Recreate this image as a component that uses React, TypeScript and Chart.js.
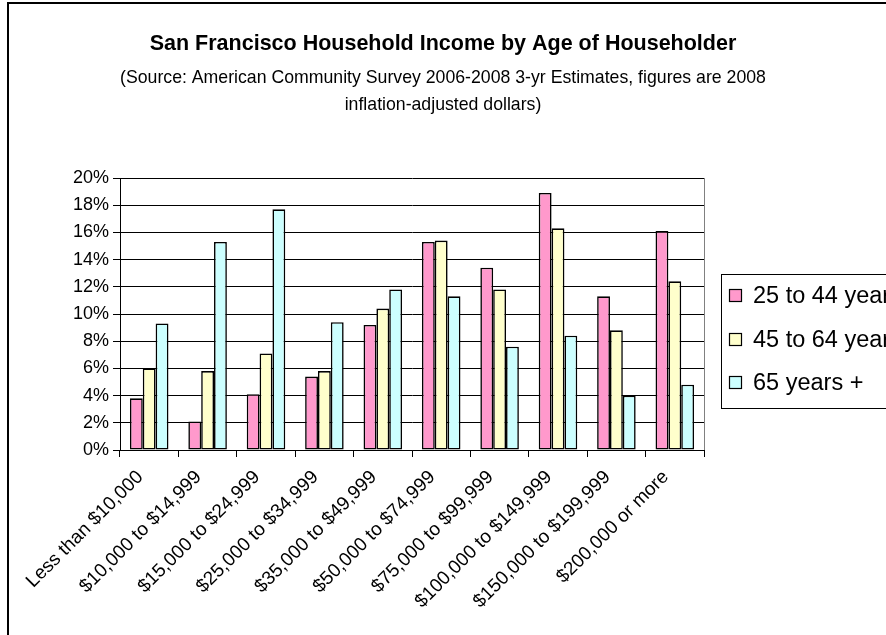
import React, { useEffect, useRef } from 'react';
import { Chart, registerables } from 'chart.js';

Chart.register(...registerables);

const categories = [
  'Less than $10,000',
  '$10,000 to $14,999',
  '$15,000 to $24,999',
  '$25,000 to $34,999',
  '$35,000 to $49,999',
  '$50,000 to $74,999',
  '$75,000 to $99,999',
  '$100,000 to $149,999',
  '$150,000 to $199,999',
  '$200,000 or more',
];
const seriesLabels = ['25 to 44 years', '45 to 64 years', '65 years +'];
const age25to44 = [3.8, 2.1, 4.1, 5.4, 9.2, 15.3, 13.4, 18.9, 11.3, 16.1];
const age45to64 = [6.0, 5.8, 7.1, 5.8, 10.4, 15.4, 11.8, 16.3, 8.8, 12.4];
const age65plus = [9.3, 15.3, 17.7, 9.4, 11.8, 11.3, 7.6, 8.4, 4.0, 4.8];
const seriesColors = ['#FF99CC', '#FFFFCC', '#CCFFFF'];
const yMin = 0;
const yMax = 20;
const yStep = 2;

const titleText = 'San Francisco Household Income by Age of Householder';
const subtitleLines = [
  '(Source: American Community Survey 2006-2008 3-yr Estimates, figures are 2008',
  'inflation-adjusted dollars)',
];

const FONT = '"Liberation Sans", Arial, Helvetica, sans-serif';

const chromePlugin = {
  id: 'chrome',
  beforeDraw(chart: any) {
    const { ctx, width, height } = chart;
    ctx.save();
    ctx.fillStyle = '#ffffff';
    ctx.fillRect(0, 0, width, height);
    ctx.restore();
  },
  afterDraw(chart: any) {
    const { ctx, chartArea } = chart;
    ctx.save();
    // outer chart border (cropped on right/bottom)
    ctx.strokeStyle = '#000000';
    ctx.lineWidth = 2;
    ctx.beginPath();
    ctx.moveTo(8, chart.height + 10);
    ctx.lineTo(8, 3);
    ctx.lineTo(chart.width + 10, 3);
    ctx.stroke();
    // plot area right border (gray)
    ctx.strokeStyle = '#808080';
    ctx.lineWidth = 1;
    ctx.beginPath();
    ctx.moveTo(Math.round(chartArea.right) + 0.5, chartArea.top);
    ctx.lineTo(Math.round(chartArea.right) + 0.5, chartArea.bottom);
    ctx.stroke();
    // legend
    const x0 = Math.round(chartArea.right) + 17;
    const y0 = Math.round(chartArea.top) + 96;
    ctx.strokeStyle = '#000000';
    ctx.lineWidth = 1;
    ctx.strokeRect(x0 + 0.5, y0 + 0.5, 400, 134);
    const dsets = chart.data.datasets;
    ctx.font = `23.5px ${FONT}`;
    ctx.textBaseline = 'middle';
    ctx.textAlign = 'left';
    dsets.forEach((ds: any, i: number) => {
      const cy = y0 + 22 + i * 43.5;
      ctx.fillStyle = ds.backgroundColor;
      ctx.fillRect(x0 + 8, Math.round(cy - 7), 13, 13);
      ctx.strokeStyle = '#000';
      ctx.lineWidth = 1.2;
      ctx.strokeRect(x0 + 8.5, Math.round(cy - 7) + 0.5, 12, 12);
      ctx.fillStyle = '#000';
      ctx.fillText(ds.label, x0 + 32, cy + 1);
    });
    ctx.restore();
  },
};

export default function App() {
  const canvasRef = useRef<HTMLCanvasElement | null>(null);

  useEffect(() => {
    const canvas = canvasRef.current;
    if (!canvas) return;
    const seriesValues = [age25to44, age45to64, age65plus];
    const chart = new Chart(canvas, {
      type: 'bar',
      data: {
        labels: categories,
        datasets: seriesValues.map((vals, i) => ({
          label: seriesLabels[i],
          data: vals,
          backgroundColor: seriesColors[i],
          borderColor: '#000000',
          borderWidth: 1.6,
          borderSkipped: false,
          categoryPercentage: 0.66,
          barPercentage: 1.0,
          yAxisID: 'y',
        })),
      },
      options: {
        responsive: false,
        animation: false,
        devicePixelRatio: 1,
        layout: { padding: { left: 0, right: 0, top: 0, bottom: 0 } },
        plugins: {
          legend: { display: false },
          tooltip: { enabled: false },
          title: {
            display: true,
            text: titleText,
            color: '#000',
            font: { family: FONT, size: 21.5, weight: 'bold', lineHeight: 1.2 },
            padding: { top: 31, bottom: 0 },
          },
          subtitle: {
            display: true,
            text: subtitleLines,
            color: '#000',
            font: { family: FONT, size: 17.7, lineHeight: 27 / 17.7 },
            padding: { top: 7.7, bottom: 59.5 },
          },
        },
        scales: {
          x: {
            grid: {
              display: true,
              drawOnChartArea: false,
              drawTicks: true,
              tickLength: 7,
              color: '#000',
              offset: true,
            },
            border: { color: '#000', width: 1 },
            ticks: {
              font: { family: FONT, size: 19 },
              color: '#000',
              maxRotation: 45,
              minRotation: 45,
              autoSkip: false,
              padding: 9,
              labelOffset: -9,
            },
            afterFit: (axis: any) => {
              axis.height = 185;
            },
          },
          y: {
            min: yMin,
            max: yMax,
            position: 'left',
            grid: { color: '#000', tickLength: 7, lineWidth: 1 },
            border: { color: '#000', width: 1 },
            ticks: {
              stepSize: yStep,
              font: { family: FONT, size: 18 },
              color: '#000',
              padding: 4,
              callback: (v: any) => `${v}%`,
            },
            afterFit: (axis: any) => {
              axis.width = 120;
            },
          },
          spacer: {
            type: 'linear',
            position: 'right',
            display: true,
            grid: { display: false },
            border: { display: false },
            ticks: { display: false },
            afterFit: (axis: any) => {
              axis.width = 182;
            },
          },
        },
      },
      plugins: [chromePlugin],
    });
    return () => chart.destroy();
  }, []);

  return (
    <div style={{ position: 'fixed', left: 0, top: 0, width: 886, height: 635, overflow: 'hidden', background: '#fff' }}>
      <canvas ref={canvasRef} width={886} height={635} style={{ display: 'block', width: 886, height: 635 }} />
    </div>
  );
}
